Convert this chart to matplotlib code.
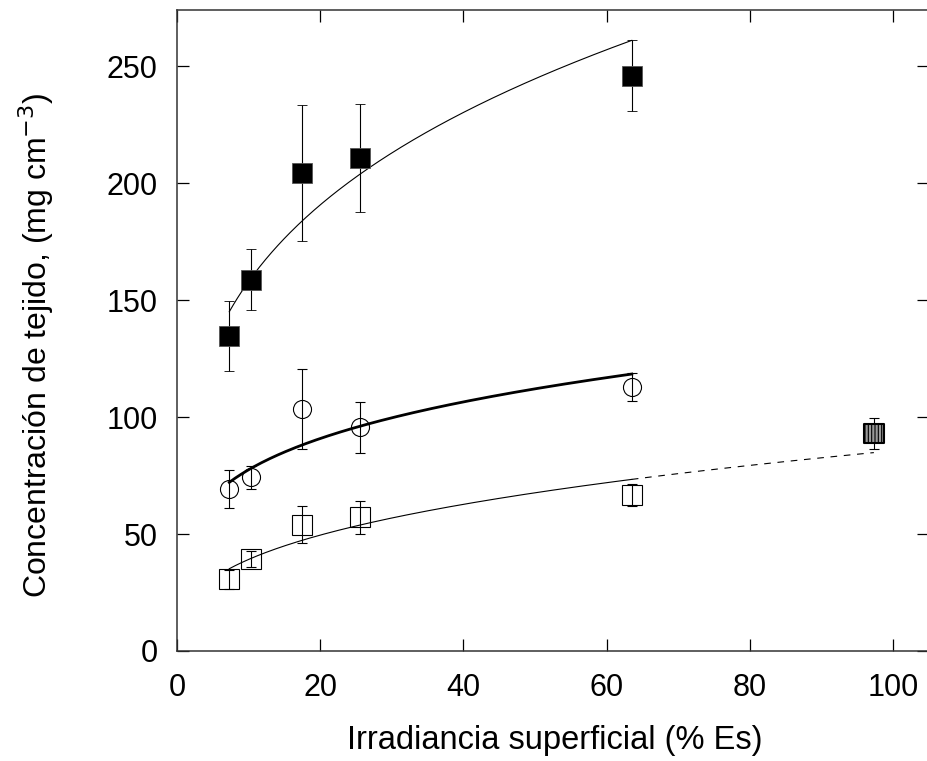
import numpy as np
import matplotlib
matplotlib.use('Agg')
import matplotlib.pyplot as plt

plt.rcParams['font.family'] = ['Liberation Sans', 'DejaVu Sans']
plt.rcParams['hatch.linewidth'] = 0.8

# Irradiancia superficial (% Es)
x_sitios = [7.3, 10.3, 17.5, 25.6, 63.5]

# Serie de cuadrados negros
y_negro = [134.6, 158.8, 204.4, 210.7, 246.0]
err_negro = [15.0, 13.0, 29.0, 23.0, 15.0]

# Serie de circulos abiertos
y_circulo = [69.2, 74.2, 103.4, 95.6, 113.0]
err_circulo = [8.0, 5.0, 17.0, 11.0, 6.0]

# Serie de cuadrados abiertos
y_abierto = [30.6, 39.4, 54.0, 57.1, 66.8]
err_abierto = [4.0, 3.5, 8.0, 7.0, 4.7]

# Punto a pleno sol (cuadrado rayado)
x_sol = [97.3]
y_sol = [93.0]
err_sol = [6.6]

# Ajustes potenciales y = a * x^b (coeficientes)
ajuste_negro = (84.5, 0.2717)
ajuste_circulo = (45.7, 0.2293)
ajuste_abierto = (17.9, 0.3398)

W, H = 928, 761
fig = plt.figure(figsize=(W / 100, H / 100), dpi=100)
ax = fig.add_axes([177 / W, (H - 651) / H, (929 - 177) / W, (651 - 10) / H])

# Curvas de ajuste
xs = np.linspace(x_sitios[0], x_sitios[-1], 200)
xs_ext = np.linspace(x_sitios[-1], x_sol[0], 50)
a, b = ajuste_negro
ax.plot(xs, a * xs ** b, color='black', lw=0.8, zorder=2)
a, b = ajuste_circulo
ax.plot(xs, a * xs ** b, color='black', lw=2.0, zorder=2)
a, b = ajuste_abierto
ax.plot(xs, a * xs ** b, color='black', lw=0.8, zorder=2)
ax.plot(xs_ext, a * xs_ext ** b, color='black', lw=0.8, dashes=(6, 6), zorder=2)

eb = dict(ecolor='black', elinewidth=0.8, capsize=3.5, capthick=0.8, ls='none', zorder=3)

ax.errorbar(x_sitios, y_negro, yerr=err_negro, marker='s', ms=14, mfc='black',
            mec='#555555', mew=0.6, **eb)
ax.errorbar(x_sitios, y_circulo, yerr=err_circulo, marker='o', ms=13, mfc='none',
            mec='black', mew=0.8, **eb)
ax.errorbar(x_sitios, y_abierto, yerr=err_abierto, marker='s', ms=14, mfc='none',
            mec='black', mew=0.8, **eb)
ax.errorbar(x_sol, y_sol, yerr=err_sol, ls='none', ecolor='black', elinewidth=0.8,
            capsize=3.5, capthick=0.8, zorder=3)
ax.scatter(x_sol, y_sol, marker='s', s=14 ** 2, facecolor='#999999', edgecolor='black',
           linewidths=1.5, hatch='|||||', zorder=4)

ax.set_xlim(0, 105)
ax.set_ylim(0, 274)
ax.set_xticks([0, 20, 40, 60, 80, 100])
ax.set_yticks([0, 50, 100, 150, 200, 250])
ax.tick_params(direction='in', length=8.5, width=0.9, top=True, right=True,
               labelsize=22, colors='black')
ax.tick_params(axis='x', pad=16)
ax.tick_params(axis='y', pad=14)
for s in ax.spines.values():
    s.set_linewidth(1.1)
    s.set_color('#333333')

fig.text(555 / W, 1 - 741 / H, 'Irradiancia superficial (% Es)', fontsize=23.5,
         ha='center', va='center')
fig.text(36 / W, 1 - 345 / H, 'Concentración de tejido, (mg cm$^{-3}$)', fontsize=23,
         ha='center', va='center', rotation=90)

fig.savefig('out.png', dpi=100)
